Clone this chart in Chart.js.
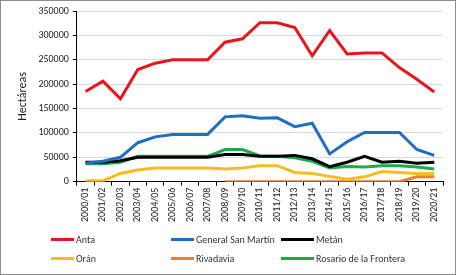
<!DOCTYPE html>
<html lang="es">
<head>
<meta charset="UTF-8">
<title>Hectáreas por departamento</title>
<script src="https://cdn.jsdelivr.net/npm/chart.js"></script>
<style>
    body { margin: 0; background: #fff; }
    #caja { position: relative; width: 454px; height: 273px; border: 1px solid #8c8c8c; background: #fff; }
    #caja canvas { position: absolute; left: 0; top: 0; }
    .ley { position: absolute; font-family: Carlito, "Liberation Sans", sans-serif; font-size: 10px; color: #333; line-height: 12px; white-space: nowrap; }
    .ley i { display: inline-block; width: 23px; height: 3px; vertical-align: middle; margin-right: 2px; margin-top: -2px; }
</style>
</head>
<body>
<div id="caja">
    <canvas id="grafico" width="454" height="273"></canvas>
    <div id="leyenda"></div>
</div>

<script>
    // categorias (campañas)
    var campanias = ['2000/01', '2001/02', '2002/03', '2003/04', '2004/05', '2005/06', '2006/07',
        '2007/08', '2008/09', '2009/10', '2010/11', '2011/12', '2012/13', '2013/14', '2014/15',
        '2015/16', '2016/17', '2017/18', '2018/19', '2019/20', '2020/21'];

    // hectareas por departamento
    var anta = [185000, 206000, 170000, 230000, 243000, 250000, 250000, 250000, 286000, 293000, 326000,
        326000, 316000, 258000, 310000, 262000, 264000, 264000, 234000, 210000, 184000];
    var generalSanMartin = [38000, 42000, 50000, 80000, 92000, 97000, 97000, 97000, 133000, 135000, 130000,
        131000, 113000, 120000, 57000, 82000, 101000, 101000, 101000, 66000, 54000];
    var metan = [40000, 40000, 43000, 50000, 50000, 50000, 50000, 50000, 56000, 56000, 52000,
        52000, 54000, 47000, 31000, 40000, 52000, 40000, 42000, 38000, 40000];
    var oran = [2000, 2000, 17000, 24000, 28000, 28000, 28000, 28000, 26000, 28000, 33000,
        33000, 19000, 17000, 11000, 5000, 10000, 21000, 19000, 17000, 17000];
    var rivadavia = [null, null, null, null, null, null, null, null, 0, 0, 0,
        0, 0, 0, 0, 0, 0, 0, 0, 10000, 10000];
    var rosario = [37000, 37000, 40000, 52000, 52000, 52000, 52000, 52000, 66000, 66000, 53000,
        52000, 49000, 42000, 28000, 31000, 30000, 33000, 33000, 30000, 26000];

    var ticksY = [0, 50000, 100000, 150000, 200000, 250000, 300000, 350000];

    var series = [
        { nombre: 'Anta', datos: anta, color: '#e8161b' },
        { nombre: 'General San Martín', datos: generalSanMartin, color: '#1f6fc0' },
        { nombre: 'Metán', datos: metan, color: '#000000' },
        { nombre: 'Orán', datos: oran, color: '#f5bd1f' },
        { nombre: 'Rivadavia', datos: rivadavia, color: '#ee7d31' },
        { nombre: 'Rosario de la Frontera', datos: rosario, color: '#1faa4a' }
    ];

    var fuente = { family: 'Carlito, "Liberation Sans", sans-serif', size: 10 };

    var datasets = series.map(function (s) {
        return {
            label: s.nombre,
            data: s.datos,
            borderColor: s.color,
            backgroundColor: s.color,
            borderWidth: 3,
            pointRadius: 0,
            fill: false,
            tension: 0
        };
    });

    new Chart(document.getElementById('grafico'), {
        type: 'line',
        data: { labels: campanias, datasets: datasets },
        options: {
            responsive: false,
            animation: false,
            layout: { padding: { left: 11, right: 12, top: 9, bottom: 50 } },
            plugins: { legend: { display: false }, tooltip: { enabled: false } },
            scales: {
                x: {
                    offset: true,
                    border: { color: '#000', width: 1 },
                    grid: { offset: true, drawOnChartArea: false, color: '#000', tickLength: 4 },
                    ticks: { color: '#222', font: fuente, maxRotation: 90, minRotation: 90, autoSkip: false, padding: 2 }
                },
                y: {
                    min: 0,
                    max: 350000,
                    border: { color: '#000', width: 1 },
                    afterBuildTicks: function (eje) { eje.ticks = ticksY.map(function (v) { return { value: v }; }); },
                    grid: { color: '#d9d9d9', tickColor: '#000', tickLength: 4 },
                    ticks: { color: '#222', font: fuente, padding: 4, callback: function (v) { return v; } },
                    title: { display: true, text: 'Hectáreas', color: '#222', font: { family: fuente.family, size: 12 }, padding: 4 }
                }
            }
        }
    });

    // leyenda en dos filas de tres columnas
    var posX = [50, 170, 280];
    var posY = [233, 252];
    var leyenda = document.getElementById('leyenda');
    series.forEach(function (s, i) {
        var d = document.createElement('div');
        d.className = 'ley';
        d.style.left = posX[i % 3] + 'px';
        d.style.top = posY[Math.floor(i / 3)] + 'px';
        var ancho = (i % 3 == 2) ? 33 : 23;
        d.innerHTML = '<i style="background:' + s.color + ';width:' + ancho + 'px"></i>' + s.nombre;
        leyenda.appendChild(d);
    });
</script>
</body>
</html>
